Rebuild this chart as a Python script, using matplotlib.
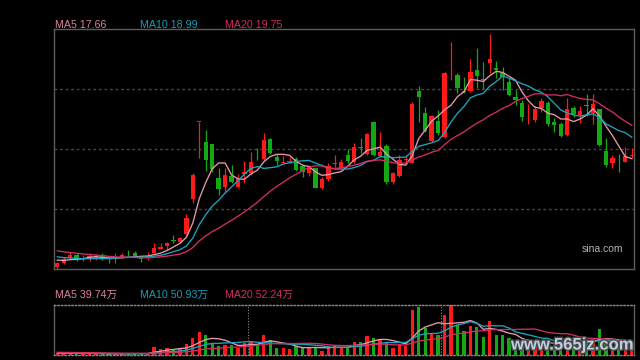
import numpy as np
import pandas as pd
import matplotlib
matplotlib.use("Agg")
from matplotlib import pyplot as plt
import matplotlib.patheffects as pe

# daily candles (price)
opens = [10.51, 10.81, 11.17, 11.30, 11.06, 11.05, 11.13, 11.30, 10.93, 11.08,
         11.19, 11.38, 11.45, 11.11, 11.15, 11.45, 11.71, 11.86, 12.24, 12.14,
         12.68, 14.92, 19.88, 18.57, 18.46, 16.25, 15.71, 16.40, 15.71, 16.53,
         16.57, 17.70, 17.51, 18.79, 17.64, 17.26, 17.30, 17.50, 17.04, 16.57,
         16.90, 15.64, 16.21, 17.19, 16.90, 17.75, 17.32, 18.27, 17.82, 19.88,
         17.69, 18.35, 16.03, 16.40, 17.46, 17.26, 21.88, 20.46, 18.68, 19.95,
         18.90, 22.96, 22.91, 21.86, 21.90, 23.24, 22.66, 23.71, 23.35, 23.06,
         22.48, 21.51, 21.13, 20.31, 20.01, 20.77, 21.13, 19.88, 19.75, 19.04,
         20.77, 20.33, 20.98, 20.48, 20.72, 18.01, 17.26, 17.51, 17.32, 17.69]
highs = [10.85, 11.15, 11.52, 11.41, 11.30, 11.43, 11.37, 11.43, 11.09, 11.40,
         11.43, 11.63, 11.53, 11.24, 11.52, 12.06, 12.06, 12.16, 12.57, 12.44,
         13.95, 16.61, 19.91, 19.37, 18.49, 16.93, 16.90, 17.11, 16.53, 17.39,
         17.97, 18.19, 19.19, 18.83, 17.82, 17.69, 17.61, 17.61, 17.11, 17.11,
         17.00, 16.31, 17.22, 17.75, 17.48, 18.12, 18.51, 18.83, 19.19, 19.90,
         19.26, 18.44, 16.68, 17.75, 17.75, 21.14, 22.22, 20.85, 20.33, 20.66,
         23.13, 25.06, 23.06, 22.76, 23.93, 24.64, 23.73, 25.56, 23.82, 23.41,
         22.74, 21.95, 21.30, 21.04, 20.91, 21.41, 21.26, 20.12, 19.90, 21.41,
         20.91, 20.91, 21.67, 21.67, 20.72, 18.83, 17.75, 17.82, 18.25, 18.19]
lows = [10.42, 10.70, 11.05, 10.94, 10.92, 10.92, 10.98, 10.98, 10.81, 10.77,
        11.11, 11.24, 11.17, 10.83, 10.98, 11.41, 11.67, 11.63, 12.10, 12.10,
        12.57, 14.64, 17.56, 16.72, 16.68, 15.17, 15.28, 15.93, 15.61, 15.93,
        16.46, 17.43, 17.43, 17.82, 17.11, 17.22, 17.26, 16.74, 16.35, 16.42,
        15.61, 15.54, 16.10, 16.96, 16.83, 17.26, 17.22, 17.86, 17.75, 17.69,
        17.64, 15.88, 15.88, 16.35, 17.22, 17.22, 19.88, 19.26, 18.61, 19.04,
        18.83, 22.59, 21.73, 21.73, 21.84, 22.06, 21.99, 23.02, 22.70, 21.95,
        21.56, 20.98, 19.97, 19.75, 19.90, 20.55, 19.62, 19.22, 18.90, 18.98,
        20.18, 19.84, 20.27, 19.73, 18.33, 16.96, 16.93, 16.68, 17.28, 17.54]
closes = [10.77, 11.03, 11.32, 11.05, 11.13, 11.24, 11.24, 11.05, 10.90, 11.14,
          11.30, 11.34, 11.24, 11.07, 11.24, 11.75, 11.82, 12.08, 12.21, 12.40,
          13.69, 16.46, 19.91, 17.43, 16.83, 15.56, 16.46, 16.03, 16.19, 16.68,
          17.32, 17.66, 18.72, 17.90, 17.39, 17.32, 17.33, 16.79, 16.68, 16.90,
          15.64, 16.19, 17.04, 17.22, 17.32, 17.37, 18.25, 18.23, 19.11, 17.75,
          17.97, 16.03, 16.57, 17.43, 17.49, 21.07, 21.51, 19.32, 20.27, 19.17,
          23.06, 23.00, 22.09, 21.82, 23.13, 22.85, 22.59, 23.95, 23.24, 22.76,
          21.62, 21.30, 20.18, 20.35, 20.72, 21.24, 19.75, 19.69, 18.98, 20.72,
          20.40, 20.59, 20.94, 21.04, 18.40, 17.11, 17.58, 17.48, 17.69, 17.73]
# volume in 万 shares
volumes = [6, 8, 9, 7, 5, 6, 5, 6, 4, 6, 5, 6, 7, 5, 6,
           33, 24, 29, 20, 24, 45, 69, 93, 80, 47, 37, 40, 40, 29, 49,
           53, 43, 80, 60, 29, 29, 24, 37, 29, 29, 33, 18, 36, 39, 30,
           33, 53, 52, 76, 69, 63, 53, 29, 43, 37, 180, 193, 109, 87, 80,
           160, 200, 120, 97, 116, 111, 73, 136, 80, 80, 69, 49, 56, 40, 52,
           44, 60, 40, 52, 73, 48, 44, 48, 64, 106, 67, 36, 32, 40, 24]

# days before the visible window, only used to warm up the moving averages
prev_closes = [12.3, 12.2, 12.1, 12.0, 11.9, 11.95, 11.85, 11.8, 11.75, 11.7,
               11.55, 11.5, 11.4, 11.3, 11.25, 11.15, 11.05, 10.95, 10.95]
prev_volumes = [14, 14, 13, 14, 15, 13, 14, 14, 13, 14,
                9, 9, 10, 8, 9, 7, 7, 6, 7]

price_labels = ['MA5 17.66', 'MA10 18.99', 'MA20 19.75']
volume_labels = ['MA5 39.74万', 'MA10 50.93万', 'MA20 52.24万']
ma_periods = [5, 10, 20]

UP = '#ff1a1a'
DOWN = '#14a814'
MA_LINE = ['#e89aac', '#1ea4c0', '#d22d63']
MA_TEXT = ['#d9839a', '#1a9bb4', '#d02d63']
FONT = ['Liberation Sans', 'Noto Sans CJK SC']


def moving_averages(history, values):
    s = pd.Series(list(history) + list(values), dtype=float)
    return [s.rolling(n, min_periods=1).mean().to_numpy()[len(history):] for n in ma_periods]


x = np.arange(len(closes))
o = np.array(opens)
c = np.array(closes)
colors = [UP if cc >= oo else DOWN for oo, cc in zip(o, c)]

fig = plt.figure(figsize=(6.4, 3.6), dpi=100, facecolor='black')
ax = fig.add_axes([54 / 640, 1 - 269 / 360, 580 / 640, 240 / 360], facecolor='black')
vax = fig.add_axes([54 / 640, 1 - 355 / 360, 580 / 640, 50 / 360], facecolor='black')

xlim = (-0.51, len(closes) - 0.65)
lo, hi = 10.40, 25.88

# price panel
for g in np.linspace(lo, hi, 5)[1:-1]:
    ax.axhline(g, color='#464646', lw=1.0, ls=(0, (2, 2)), zorder=0)
ax.vlines(x, lows, highs, colors=colors, lw=0.9, zorder=2)
bottoms = np.minimum(o, c)
heights = np.maximum(np.abs(c - o), 0.04)
ax.bar(x, heights, bottom=bottoms, width=0.68, color=colors, linewidth=0, zorder=3)
for ma, col in zip(moving_averages(prev_closes, closes), MA_LINE):
    ax.plot(x, ma, color=col, lw=0.95, zorder=4)
ax.set_xlim(*xlim)
ax.set_ylim(lo, hi)
ax.set_xticks([])
ax.set_yticks([])
for sp in ax.spines.values():
    sp.set_color('#5c5c5c')
    sp.set_linewidth(1.0)
ax.text(0.981, 0.083, 'sina.com', transform=ax.transAxes, ha='right', va='center',
        color='#b4b4b4', fontsize=7.5, family=FONT)

# volume panel
vax.bar(x, volumes, width=0.5, color=colors, linewidth=0, zorder=2)
for ma, col in zip(moving_averages(prev_volumes, volumes), MA_LINE):
    vax.plot(x, ma, color=col, lw=0.95, zorder=3)
for sep in (29.5, 59.5):
    vax.axvline(sep, color='#8a8a8a', lw=0.8, ls=(0, (1, 1.5)), zorder=1)
vax.set_xlim(*xlim)
vax.set_ylim(0, max(volumes) * 1.005)
vax.set_xticks([])
vax.set_yticks([])
for name, sp in vax.spines.items():
    sp.set_color('#8a8a8a' if name in ('top', 'bottom') else '#5c5c5c')
    sp.set_linewidth(1.0)
    if name in ('top', 'bottom'):
        sp.set_linestyle((0, (1, 1.5)))

# legends above each panel
for lbl, px, col in zip(price_labels, (55, 140, 225), MA_TEXT):
    fig.text(px / 640, 1 - 24.5 / 360, lbl, color=col, fontsize=7.7, va='center', family=FONT)
for lbl, px, col in zip(volume_labels, (55, 140, 225), MA_TEXT):
    fig.text(px / 640, 1 - 295 / 360, lbl, color=col, fontsize=7.7, va='center', family=FONT)

# site watermark
fig.text(633 / 640, 1 - 345 / 360, 'www.565jz.com', ha='right', va='center',
         color='#c8d8ee', fontsize=12, fontweight='bold', family='Liberation Sans',
         alpha=0.92, path_effects=[pe.withStroke(linewidth=2.2, foreground='#4a4a4a')])

fig.savefig('out.png', dpi=100, facecolor='black')
